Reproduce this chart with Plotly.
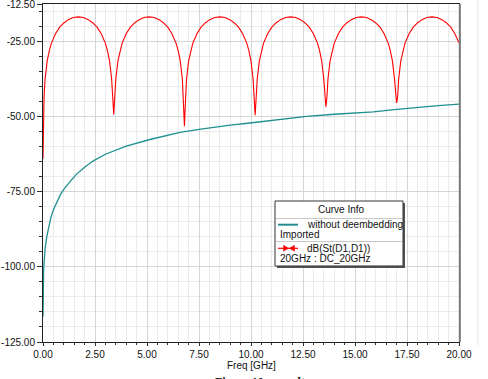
import plotly.graph_objects as go

# ---------------- data ----------------
freq_s11 = [0.00, 0.02, 0.05, 0.10, 0.20, 0.30, 0.40, 0.60, 0.80, 1.00, 1.20, 1.45, 1.70, 1.95, 2.20, 2.40,
            2.60, 2.80, 3.00, 3.10, 3.20, 3.30, 3.35, 3.40, 3.45, 3.50, 3.60, 3.70, 3.80, 4.00, 4.20, 4.40,
            4.60, 4.85, 5.10, 5.35, 5.60, 5.80, 6.00, 6.20, 6.40, 6.50, 6.60, 6.70, 6.75, 6.77, 6.80, 6.83,
            6.85, 6.90, 7.00, 7.10, 7.20, 7.40, 7.60, 7.80, 8.00, 8.25, 8.50, 8.75, 9.00, 9.20, 9.40, 9.60,
            9.80, 9.90, 10.00, 10.10, 10.15, 10.20, 10.25, 10.30, 10.40, 10.50, 10.60, 10.80, 11.00, 11.20,
            11.40, 11.65, 11.90, 12.15, 12.40, 12.60, 12.80, 13.00, 13.20, 13.30, 13.40, 13.50, 13.55, 13.60,
            13.65, 13.70, 13.80, 13.90, 14.00, 14.20, 14.40, 14.60, 14.80, 15.05, 15.30, 15.55, 15.80, 16.00,
            16.20, 16.40, 16.60, 16.70, 16.80, 16.90, 16.95, 17.00, 17.05, 17.10, 17.20, 17.30, 17.40, 17.60,
            17.80, 18.00, 18.20, 18.45, 18.70, 18.95, 19.20, 19.40, 19.60, 19.80, 20.00]
s11_db = [-64.0, -51.5, -43.5, -37.5, -31.5, -28.1, -25.6, -22.4, -20.2, -18.8, -17.8, -17.0, -16.8, -17.0, -17.8, -18.8,
          -20.2, -22.4, -25.6, -28.1, -31.5, -37.5, -43.5, -49.3, -43.5, -37.5, -31.5, -28.1, -25.6, -22.4, -20.2, -18.8,
          -17.8, -17.0, -16.8, -17.0, -17.8, -18.8, -20.2, -22.4, -25.6, -28.1, -31.5, -37.5, -43.5, -47.9, -53.2, -47.9,
          -43.5, -37.5, -31.5, -28.1, -25.6, -22.4, -20.2, -18.8, -17.8, -17.0, -16.8, -17.0, -17.8, -18.8, -20.2, -22.4,
          -25.6, -28.1, -31.5, -37.5, -43.5, -49.5, -43.5, -37.5, -31.5, -28.1, -25.6, -22.4, -20.2, -18.8,
          -17.8, -17.0, -16.8, -17.0, -17.8, -18.8, -20.2, -22.4, -25.6, -28.1, -31.5, -37.5, -43.5, -46.8,
          -43.5, -37.5, -31.5, -28.1, -25.6, -22.4, -20.2, -18.8, -17.8, -17.0, -16.8, -17.0, -17.8, -18.8,
          -20.2, -22.4, -25.6, -28.1, -31.5, -37.5, -43.5, -45.4, -43.5, -37.5, -31.5, -28.1, -25.6, -22.4,
          -20.2, -18.8, -17.8, -17.0, -16.8, -17.0, -17.8, -18.8, -20.2, -22.4, -25.4]

freq_imp = [0.00, 0.01, 0.03, 0.06, 0.10, 0.18, 0.26, 0.38, 0.50, 0.66, 0.85, 1.06, 1.30, 1.60, 2.00, 2.42,
            3.00, 3.54, 4.00, 5.14, 6.00, 6.59, 7.50, 8.19, 9.00, 9.95, 11.00, 12.00, 12.68, 14.00, 15.00,
            15.88, 17.00, 18.00, 19.00, 20.00]
imp_db = [-116.6, -106.0, -101.0, -98.0, -94.0, -90.0, -87.0, -83.5, -81.0, -78.5, -75.8, -73.6, -71.5, -69.2, -66.8, -64.7,
          -62.5, -60.9, -59.8, -57.6, -56.1, -55.2, -54.2, -53.5, -52.8, -52.1, -51.2, -50.4, -49.9, -49.2, -48.8,
          -48.4, -47.6, -46.9, -46.3, -45.8]

x_ticks = [0.0, 2.5, 5.0, 7.5, 10.0, 12.5, 15.0, 17.5, 20.0]
y_ticks = [-125.0, -100.0, -75.0, -50.0, -25.0, -12.5]

# ---------------- figure ----------------
W, H = 488, 379
ML, MR, MT, MB = 43, 29, 4, 37
PW, PH = W - ML - MR, H - MT - MB


def px(x):
    return (x - ML) / PW


def py(y):
    return (H - MB - y) / PH


TEAL = "#1f8f8f"
RED = "#ff0000"
FONT = "Liberation Sans, Arial, sans-serif"

fig = go.Figure()
fig.add_trace(go.Scatter(x=freq_imp, y=imp_db, mode="lines",
                         line=dict(color=TEAL, width=1.3), name="without deembedding",
                         showlegend=False))
fig.add_trace(go.Scatter(x=freq_s11, y=s11_db, mode="lines",
                         line=dict(color=RED, width=1.1), name="dB(St(D1,D1))",
                         showlegend=False))

x_minor = [i * 0.5 for i in range(41)]
y_minor = [-125 + i * 5 for i in range(23)]

fig.update_xaxes(range=[0, 20], tickmode="array", tickvals=x_ticks,
                 ticktext=[f"{v:.2f}" for v in x_ticks],
                 ticks="outside", ticklen=3, tickcolor="#333", tickwidth=1,
                 showgrid=True, gridcolor="#d6d6d6", gridwidth=1.2,
                 minor=dict(tickmode="array", tickvals=x_minor, ticks="outside", ticklen=2,
                            tickcolor="#333", showgrid=True, gridcolor="#ebebeb", gridwidth=1),
                 showline=True, linecolor="#222", linewidth=1, mirror=True,
                 zeroline=False, automargin=False, ticklabeloverflow="allow",
                 tickfont=dict(family=FONT, size=10, color="#111"))
fig.update_yaxes(range=[-125, -12.5], tickmode="array", tickvals=y_ticks,
                 ticktext=[f"{v:.2f}" for v in y_ticks],
                 ticks="outside", ticklen=5, tickcolor="#333", tickwidth=1,
                 showgrid=True, gridcolor="#d6d6d6", gridwidth=1.2,
                 minor=dict(tickmode="array", tickvals=y_minor, ticks="outside", ticklen=3,
                            tickcolor="#333", showgrid=True, gridcolor="#ebebeb", gridwidth=1),
                 showline=True, linecolor="#222", linewidth=1, mirror=True,
                 zeroline=False, automargin=False, ticklabeloverflow="allow",
                 tickfont=dict(family=FONT, size=10, color="#111"))

shapes = []
# thicker grey right border of the plot frame
shapes.append(dict(type="line", xref="paper", yref="paper", x0=1.002, x1=1.002, y0=0, y1=1,
                   line=dict(color="#777", width=2)))
# faint window line on the far right
shapes.append(dict(type="line", xref="paper", yref="paper", x0=px(478), x1=px(478), y0=py(345), y1=py(0),
                   line=dict(color="#e2e2e2", width=1)))

# legend box "Curve Info"
bx0, bx1, by0, by1 = 275, 403, 201, 266
shapes.append(dict(type="rect", xref="paper", yref="paper", x0=px(bx0 + 2), x1=px(bx1 + 2),
                   y0=py(by1 + 2), y1=py(by0 + 2), fillcolor="#555", line=dict(width=0)))
shapes.append(dict(type="rect", xref="paper", yref="paper", x0=px(bx0), x1=px(bx1),
                   y0=py(by1), y1=py(by0), fillcolor="white", line=dict(color="#333", width=1)))
for sy in (218.5, 241.5):
    shapes.append(dict(type="line", xref="paper", yref="paper", x0=px(bx0 + 1), x1=px(bx1 - 1),
                       y0=py(sy), y1=py(sy), line=dict(color="#c8c8c8", width=1)))
# teal sample line
shapes.append(dict(type="line", xref="paper", yref="paper", x0=px(278), x1=px(298),
                   y0=py(224.7), y1=py(224.7), line=dict(color=TEAL, width=2)))
# red sample: line with two inward arrowheads
shapes.append(dict(type="line", xref="paper", yref="paper", x0=px(278), x1=px(298),
                   y0=py(248.3), y1=py(248.3), line=dict(color=RED, width=1.2)))
ry = 248.3
for tipx, basex in ((288.5, 283.5), (289.5, 294.5)):
    path = (f"M {px(basex)} {py(ry - 3)} L {px(tipx)} {py(ry)} L {px(basex)} {py(ry + 3)} Z")
    shapes.append(dict(type="path", xref="paper", yref="paper", path=path,
                       fillcolor=RED, line=dict(color=RED, width=0.5)))

annotations = [
    dict(text="Freq [GHz]", x=px(251.5), y=py(365.5), xref="paper", yref="paper", showarrow=False,
         xanchor="center", yanchor="middle", font=dict(family=FONT, size=10, color="#111")),
    dict(text="Curve Info", x=px(341), y=py(209.5), xref="paper", yref="paper", showarrow=False,
         xanchor="center", yanchor="middle", font=dict(family=FONT, size=10, color="#111")),
    dict(text="without deembedding", x=px(305), y=py(224.7), xref="paper", yref="paper", showarrow=False,
         xanchor="left", yanchor="middle", font=dict(family=FONT, size=10, color="#111")),
    dict(text="Imported", x=px(277.5), y=py(234.5), xref="paper", yref="paper", showarrow=False,
         xanchor="left", yanchor="middle", font=dict(family=FONT, size=10, color="#111")),
    dict(text="dB(St(D1,D1))", x=px(305), y=py(248.3), xref="paper", yref="paper", showarrow=False,
         xanchor="left", yanchor="middle", font=dict(family=FONT, size=10, color="#111")),
    dict(text="20GHz : DC_20GHz", x=px(277.5), y=py(258.3), xref="paper", yref="paper", showarrow=False,
         xanchor="left", yanchor="middle", font=dict(family=FONT, size=10, color="#111")),
    dict(text="<b>Figure 10    results</b>", x=px(262), y=py(372.5), xref="paper", yref="paper",
         showarrow=False, xanchor="center", yanchor="top",
         font=dict(family="Liberation Serif, Times New Roman, serif", size=12, color="#111")),
]

fig.update_layout(width=W, height=H, margin=dict(l=ML, r=MR, t=MT, b=MB, pad=0, autoexpand=False),
                  paper_bgcolor="white", plot_bgcolor="white", showlegend=False,
                  shapes=shapes, annotations=annotations)

fig.write_html("out.html", config={"displayModeBar": False},
               post_script=["document.body.style.margin='0';document.body.style.overflow='hidden';"])
